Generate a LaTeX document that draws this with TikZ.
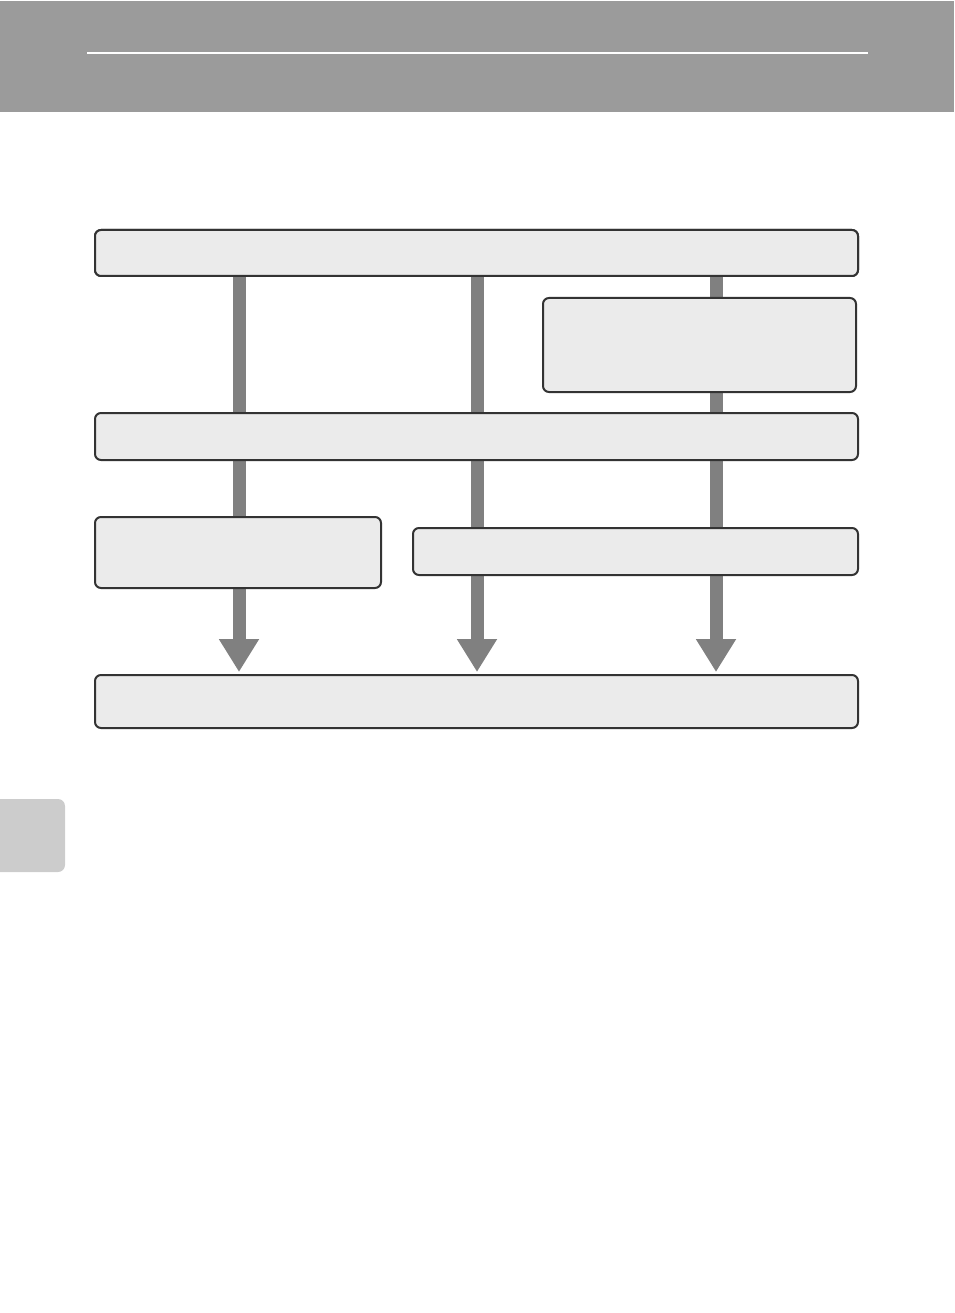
\documentclass[tikz,border=0pt]{standalone}
\usetikzlibrary{arrows.meta}

\definecolor{hlavicka}{HTML}{9B9B9B}
\definecolor{zalozka}{HTML}{CCCCCC}
\definecolor{vypln}{HTML}{EBEBEB}
\definecolor{okraj}{HTML}{333333}
\definecolor{sipka}{HTML}{808080}

\tikzstyle{box}=[draw=okraj, fill=vypln, line width=2pt, rounded corners=6pt, inner sep=0pt]
\tikzstyle{tok}=[draw=sipka, line width=13pt, -{Triangle[length=33pt, width=38pt]}, shorten >=2pt]

\begin{document}
\begin{tikzpicture}[x=1pt, y=-1pt]
		            \useasboundingbox (0,0) rectangle (954,1313);

		            % Hlavička a záložka
		            \fill[hlavicka] (0,1) rectangle (954,112);
		            \draw[white, line width=1.2pt] (87,53) -- (868,53);
		            \fill[zalozka, rounded corners=7pt] (-12,799) rectangle (65,872);

		            % Sloupce šipek
		            \coordinate (s1) at (239,0);
		            \coordinate (s2) at (477,0);
		            \coordinate (s3) at (716,0);

		            % Krabice
		            \node[box, minimum width=763pt, minimum height=46pt] (horni) at (476.5,253) {};
		            \node[box, minimum width=763pt, minimum height=53pt] (dolni) at (476.5,701.5) {};

		            % Šipky (pod krabicemi)
		            \draw[tok] (horni.center -| s1) -- (dolni.north -| s1);
		            \draw[tok] (horni.center -| s2) -- (dolni.north -| s2);
		            \draw[tok] (horni.center -| s3) -- (dolni.north -| s3);

		            % Krabice přes šipky
		            \node[box, minimum width=763pt, minimum height=46pt] at (horni) {};
		            \node[box, minimum width=313pt, minimum height=94pt] (pravy) at (699.5,345) {};
		            \node[box, minimum width=763pt, minimum height=47pt] (stredni) at (476.5,436.5) {};
		            \node[box, minimum width=286pt, minimum height=71pt] (levy) at (238,552.5) {};
		            \node[box, minimum width=445pt, minimum height=47pt] (pravydolni) at (635.5,551.5) {};
		        \end{tikzpicture}
\end{document}
